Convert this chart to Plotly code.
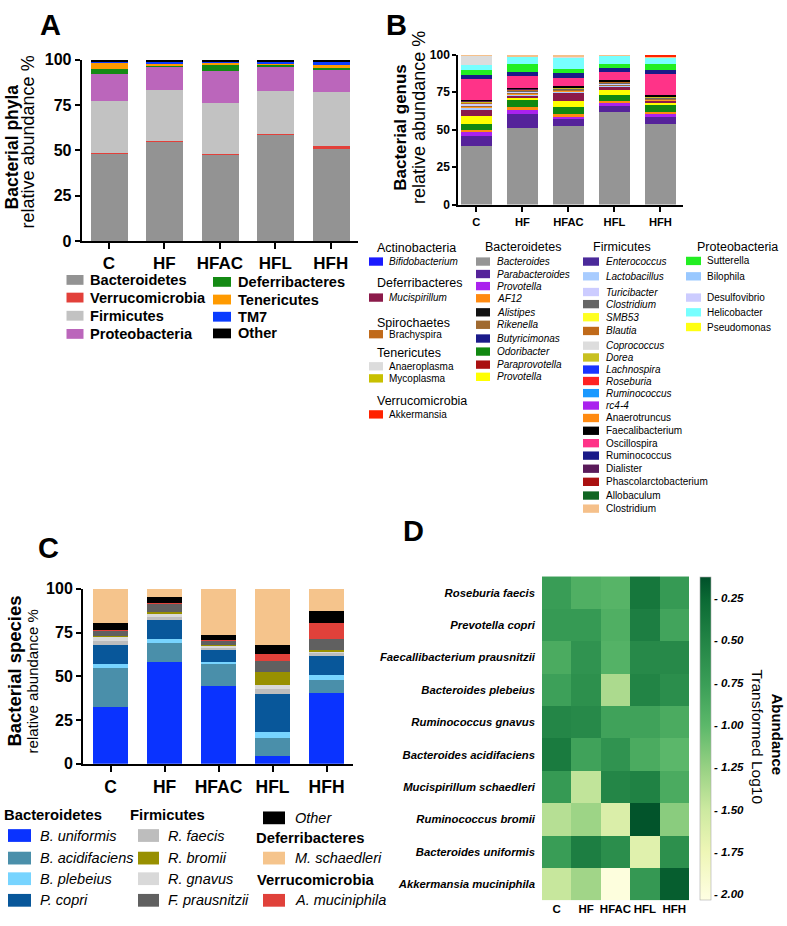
import plotly.graph_objects as go

W, H = 787, 926
FONT = "Liberation Sans, Arial, Helvetica, sans-serif"


def px(x):
    return x / W


def py(y):
    return 1 - y / H


groups = ["C", "HF", "HFAC", "HFL", "HFH"]

# ---------------- Panel A: bacterial phyla (% per group) ----------------
phyla = ["Bacteroidetes", "Verrucomicrobia", "Firmicutes", "Proteobacteria",
         "Deferribacteres", "Tenericutes", "TM7", "Other"]
phyla_colors = ["#939393", "#e2403a", "#c2c2c2", "#bb66bb",
                "#148a14", "#ff9a00", "#0a3cff", "#000000"]
a_bacteroidetes = [48.2, 55.1, 47.8, 59.1, 51.3]
a_verrucomicrobia = [0.3, 0.2, 0.1, 0.1, 1.1]
a_firmicutes = [28.8, 28.3, 28.1, 23.7, 29.8]
a_proteobacteria = [15.1, 12.8, 18.2, 13.5, 12.7]
a_deferribacteres = [2.5, 0.6, 2.9, 1.1, 1.1]
a_tenericutes = [3.6, 0.8, 1.4, 0.5, 1.1]
a_tm7 = [0.8, 1.2, 0.8, 0.9, 1.6]
a_other = [0.7, 1.0, 0.7, 1.1, 1.3]
phyla_values = [a_bacteroidetes, a_verrucomicrobia, a_firmicutes, a_proteobacteria,
                a_deferribacteres, a_tenericutes, a_tm7, a_other]

# ---------------- Panel B: bacterial genera (% per group, stacked bottom->top) ----------------
b_bacteroides = [39.5, 51.5, 52.6, 61.8, 53.7]
b_parabacteroides = [6.6, 9.2, 4.4, 4.4, 5.0]
b_provotella_v = [2.2, 2.8, 1.7, 1.7, 2.2]
b_af12 = [1.7, 1.8, 1.8, 1.5, 1.1]
b_odoribacter = [3.7, 4.8, 4.6, 4.0, 4.8]
b_provotella_y = [5.5, 1.7, 3.9, 3.2, 1.1]
b_mucispirillum = [4.3, 1.0, 6.1, 2.2, 1.5]
b_lactobacillus = [1.5, 0.8, 0.5, 0.6, 0.5]
b_anaerotruncus = [0.8, 0.7, 0.4, 0.5, 0.4]
b_rikenella = [0.8, 0.8, 0.8, 0.7, 0.5]
b_turicibacter = [0.7, 0.6, 0.4, 0.5, 0.4]
b_clostridium_g = [0.6, 0.5, 0.4, 0.5, 0.4]
b_blautia = [0.5, 0.5, 0.3, 0.4, 0.3]
b_dorea = [0.4, 0.4, 0.2, 0.3, 0.3]
b_dialister = [0.5, 0.4, 0.3, 0.2, 0.2]
b_faecalibacterium = [0.7, 0.7, 0.6, 0.6, 1.0]
b_oscillospira = [13.8, 7.6, 5.9, 5.5, 14.2]
b_ruminococcus_n = [2.6, 2.8, 3.1, 2.7, 2.1]
b_sutterella = [3.7, 5.4, 2.8, 2.4, 4.4]
b_helicobacter = [3.5, 4.9, 7.2, 5.9, 3.9]
b_anaeroplasma = [5.9, 0.3, 1.0, 0.0, 0.0]
b_clostridium_p = [0.5, 0.8, 1.0, 0.4, 1.2]
b_akkermansia = [0.0, 0.0, 0.0, 0.0, 0.8]

genus_stack_names = ["Bacteroides", "Parabacteroides", "Provotella", "AF12", "Odoribacter",
                     "Provotella", "Mucispirillum", "Lactobacillus", "Anaerotruncus", "Rikenella",
                     "Turicibacter", "Clostridium", "Blautia", "Dorea", "Dialister",
                     "Faecalibacterium", "Oscillospira", "Ruminococcus", "Sutterella",
                     "Helicobacter", "Anaeroplasma", "Clostridium", "Akkermansia"]
genus_stack_colors = ["#959595", "#55229a", "#aa22ee", "#ff8a11", "#118811",
                      "#ffff00", "#8b1a4a", "#a8ccff", "#ff9a22", "#a06a30",
                      "#ccccff", "#666666", "#c06a1a", "#c8c020", "#5a1a5a",
                      "#000000", "#ff3388", "#1a1a88", "#22ee22",
                      "#77ffff", "#dcdcdc", "#f5c08a", "#ff2200"]
genus_stack_values = [b_bacteroides, b_parabacteroides, b_provotella_v, b_af12, b_odoribacter,
                      b_provotella_y, b_mucispirillum, b_lactobacillus, b_anaerotruncus, b_rikenella,
                      b_turicibacter, b_clostridium_g, b_blautia, b_dorea, b_dialister,
                      b_faecalibacterium, b_oscillospira, b_ruminococcus_n, b_sutterella,
                      b_helicobacter, b_anaeroplasma, b_clostridium_p, b_akkermansia]

# Panel B legend content: (phylum header, [(genus, color, italic), ...])
legB_col1 = [("Actinobacteria", [("Bifidobacterium", "#1a1aff", True)]),
             ("Deferribacteres", [("Mucispirillum", "#8b1a4a", True)]),
             ("Spirochaetes", [("Brachyspira", "#c06a1a", False)]),
             ("Tenericutes", [("Anaeroplasma", "#dcdcdc", False), ("Mycoplasma", "#c8c000", False)]),
             ("Verrucomicrobia", [("Akkermansia", "#ff2200", False)])]
legB_col2 = [("Bacteroidetes", [("Bacteroides", "#959595", True), ("Parabacteroides", "#55229a", True),
                                ("Provotella", "#aa22ee", True), ("AF12", "#ff8a11", True),
                                ("Alistipes", "#111111", True), ("Rikenella", "#a06a30", True),
                                ("Butyricimonas", "#1a1a8a", True), ("Odoribacter", "#118811", True),
                                ("Paraprovotella", "#aa1111", True), ("Provotella", "#ffff00", True)])]
legB_col3 = [("Firmicutes", [("Enterococcus", "#4b2a9a", True), ("Lactobacillus", "#a8ccff", True),
                             ("Turicibacter", "#ccccff", True), ("Clostridium", "#666666", True),
                             ("SMB53", "#ffff22", True), ("Blautia", "#c06a1a", True),
                             ("Coprococcus", "#dddddd", True), ("Dorea", "#c8c020", True),
                             ("Lachnospira", "#1a33ff", True), ("Roseburia", "#ff2222", True),
                             ("Ruminococcus", "#1a99ff", True), ("rc4-4", "#aa22ee", True),
                             ("Anaerotruncus", "#ff8a11", False), ("Faecalibacterium", "#000000", False),
                             ("Oscillospira", "#ff3388", False), ("Ruminococcus", "#1a1a88", False),
                             ("Dialister", "#5a1a5a", False), ("Phascolarctobacterium", "#aa1111", False),
                             ("Allobaculum", "#116622", False), ("Clostridium", "#f5c08a", False)])]
legB_col4 = [("Proteobacteria", [("Sutterella", "#22ee22", False), ("Bilophila", "#99c8ff", False),
                                 ("Desulfovibrio", "#ccccff", False), ("Helicobacter", "#77ffff", False),
                                 ("Pseudomonas", "#ffff11", False)])]

# ---------------- Panel C: bacterial species (% per group, stacked bottom->top) ----------------
species_c = ["B. uniformis", "B. acidifaciens", "B. plebeius", "P. copri", "R. faecis",
             "R. gnavus", "R. bromii", "F. prausnitzii", "A. muciniphila", "Other", "M. schaedleri"]
species_c_colors = ["#0a33ff", "#4a8faa", "#77d4ff", "#08579a", "#bdbdbd",
                    "#d9d9d9", "#989000", "#606060", "#e0413a", "#000000", "#f5c48c"]
c_b_uniformis = [32.3, 58.3, 44.3, 4.7, 40.7]
c_b_acidifaciens = [22.8, 10.9, 13.3, 9.9, 7.5]
c_b_plebeius = [1.9, 2.4, 0.7, 3.5, 2.6]
c_p_copri = [10.9, 10.6, 6.7, 22.1, 10.9]
c_r_faecis = [2.5, 2.0, 1.4, 2.8, 1.5]
c_r_gnavus = [2.5, 1.8, 1.3, 1.9, 1.3]
c_r_bromii = [0.5, 0.7, 0.3, 7.8, 0.9]
c_f_prausnitzii = [2.8, 4.9, 2.7, 6.2, 6.0]
c_a_muciniphila = [0.6, 0.5, 0.2, 4.1, 9.3]
c_other = [3.6, 3.6, 2.6, 5.2, 6.6]
c_m_schaedleri = [19.6, 4.3, 26.5, 31.8, 12.7]
species_c_values = [c_b_uniformis, c_b_acidifaciens, c_b_plebeius, c_p_copri, c_r_faecis,
                    c_r_gnavus, c_r_bromii, c_f_prausnitzii, c_a_muciniphila, c_other, c_m_schaedleri]

# ---------------- Panel D: heatmap (log10 transformed abundance) ----------------
heat_species = ["Roseburia faecis", "Prevotella copri", "Faecallibacterium prausnitzii",
                "Bacteroides plebeius", "Ruminococcus gnavus", "Bacteroides acidifaciens",
                "Mucispirillum schaedleri", "Ruminococcus bromii", "Bacteroides uniformis",
                "Akkermansia muciniphila"]
h_roseburia_faecis = [-0.75, -0.92, -0.97, -0.38, -0.72]
h_prevotella_copri = [-0.72, -0.72, -0.92, -0.45, -0.82]
h_faecalibacterium = [-0.88, -0.65, -0.95, -0.55, -0.55]
h_bacteroides_plebeius = [-0.78, -0.62, -1.35, -0.50, -0.60]
h_ruminococcus_gnavus = [-0.52, -0.55, -0.80, -0.80, -0.88]
h_bacteroides_acidifaciens = [-0.42, -0.80, -0.65, -0.88, -1.00]
h_mucispirillum = [-0.72, -1.45, -0.52, -0.48, -0.88]
h_ruminococcus_bromii = [-1.40, -1.28, -1.60, -0.15, -1.20]
h_bacteroides_uniformis = [-0.75, -0.45, -0.60, -1.65, -0.62]
h_akkermansia = [-1.48, -1.30, -2.00, -0.70, -0.20]
heat_values = [h_roseburia_faecis, h_prevotella_copri, h_faecalibacterium, h_bacteroides_plebeius,
               h_ruminococcus_gnavus, h_bacteroides_acidifaciens, h_mucispirillum,
               h_ruminococcus_bromii, h_bacteroides_uniformis, h_akkermansia]
cbar_ticks = [-0.25, -0.5, -0.75, -1.0, -1.25, -1.5, -1.75, -2.0]
cbar_ticktext = ["- 0.25", "- 0.50", "- 0.75", "- 1.00", "- 1.25", "- 1.50", "- 1.75", "- 2.00"]

# ======================= build figure =======================
fig = go.Figure()

for name, color, vals in zip(phyla, phyla_colors, phyla_values):
    fig.add_trace(go.Bar(x=groups, y=vals, name=name, marker=dict(color=color, line=dict(width=0)),
                         width=0.67, xaxis="x", yaxis="y", showlegend=False))

for name, color, vals in zip(genus_stack_names, genus_stack_colors, genus_stack_values):
    fig.add_trace(go.Bar(x=groups, y=vals, name=name, marker=dict(color=color, line=dict(width=0)),
                         width=0.67, xaxis="x2", yaxis="y2", showlegend=False))

for name, color, vals in zip(species_c, species_c_colors, species_c_values):
    fig.add_trace(go.Bar(x=groups, y=vals, name=name, marker=dict(color=color, line=dict(width=0)),
                         width=0.66, xaxis="x3", yaxis="y3", showlegend=False))

colorscale = [[0.0, "#ffffe3"], [0.15, "#eef6b6"], [0.28, "#cce9a0"], [0.41, "#97d183"],
              [0.54, "#5cb86a"], [0.67, "#3a9e57"], [0.80, "#238546"], [0.93, "#0b6a34"],
              [1.0, "#00502a"]]
fig.add_trace(go.Heatmap(
    x=groups, y=heat_species, z=heat_values, zmin=-2.035, zmax=-0.13,
    colorscale=colorscale, xaxis="x4", yaxis="y4", showscale=True,
    colorbar=dict(x=px(700), xanchor="left", y=py(580), yanchor="top",
                  len=(909 - 580) / H, lenmode="fraction", thickness=11, thicknessmode="pixels",
                  xpad=0, ypad=0, outlinewidth=0.6, outlinecolor="#aaaaaa",
                  tickvals=cbar_ticks, ticktext=["<b><i>" + t + "</i></b>" for t in cbar_ticktext],
                  ticks="", tickfont=dict(size=11.5, family=FONT, color="black"))))


def bar_x(domain, rng, size, anchor, lw=2):
    return dict(domain=domain, range=rng, type="category", anchor=anchor, showline=True,
                linecolor="black", linewidth=lw, ticks="outside", ticklen=6, tickwidth=lw,
                tickcolor="black", tickfont=dict(size=size, family=FONT, color="black", weight="bold"),
                showgrid=False, zeroline=False, fixedrange=True)


def bar_y(domain, size, anchor, lw=2, ticklen=5):
    return dict(domain=domain, range=[0, 100], tickvals=[0, 25, 50, 75, 100], anchor=anchor,
                showline=True, linecolor="black", linewidth=lw, ticks="outside", ticklen=ticklen,
                tickwidth=lw, tickcolor="black",
                tickfont=dict(size=size, family=FONT, color="black", weight="bold"),
                showgrid=False, zeroline=False, fixedrange=True)


shapes = []
annotations = []


def swatch(x0, x1, yc, h, color):
    shapes.append(dict(type="rect", xref="paper", yref="paper", x0=px(x0), x1=px(x1),
                       y0=py(yc + h / 2), y1=py(yc - h / 2), fillcolor=color, line=dict(width=0),
                       layer="above"))


def text(x, y, s, size, bold=False, italic=False, xanchor="left", angle=0):
    if italic:
        s = "<i>" + s + "</i>"
    if bold:
        s = "<b>" + s + "</b>"
    annotations.append(dict(xref="paper", yref="paper", x=px(x), y=py(y), text=s, showarrow=False,
                            xanchor=xanchor, yanchor="middle", textangle=angle,
                            font=dict(size=size, family=FONT, color="black"), borderpad=0))


# panel letters
text(50, 17, "A", 29, bold=True, xanchor="center")
text(396, 17, "B", 29, bold=True, xanchor="center")
text(48, 550, "C", 29, bold=True, xanchor="center")
text(413, 533, "D", 29, bold=True, xanchor="center")

# axis titles
text(12, 142, "Bacterial phyla", 17.5, bold=True, xanchor="center", angle=-90)
text(28, 137, "relative abundance %", 18, xanchor="center", angle=-90)
text(401, 121, "Bacterial genus", 17, bold=True, xanchor="center", angle=-90)
text(419, 112, "relative abundance %", 18, xanchor="center", angle=-90)
text(15, 676, "Bacterial species", 18.5, bold=True, xanchor="center", angle=-90)
text(32, 686, "relative abundance %", 15, xanchor="center", angle=-90)
text(778, 740, "Abundance", 15, bold=True, xanchor="center", angle=90)
text(758, 742, "Transformed Log10", 15.5, xanchor="center", angle=90)

# Panel A legend
legA_rows = [277, 295, 313.5, 332]
legA_rows2 = [279, 297, 314.5, 331.5]
for i in range(4):
    swatch(66.5, 83.5, legA_rows[i], 10, phyla_colors[i])
    text(89, legA_rows[i], phyla[i], 14.6, bold=True)
    swatch(213, 231, legA_rows2[i], 10, phyla_colors[4 + i])
    text(237, legA_rows2[i], phyla[4 + i], 14.6, bold=True)

# Panel B legend
col1_y = [244, 258.3, 280, 295, 320.7, 332.3, 351.7, 365, 377.3, 400.7, 414]
col2_y = [243.3, 258.3, 271, 283.3, 295.7, 310, 322.7, 336.7, 350, 363.3, 375.7]
col3_y = [243.3] + [230 + v / 3 for v in [85, 130, 178, 215, 255, 297, 342, 378, 415, 450, 487, 525,
                                         563, 602, 640, 678, 718, 758, 800, 840]]
col4_y = [243.3] + [230 + v / 3 for v in [83, 130, 195, 240, 285]]
b_cols = [(legB_col1, col1_y, 369, 383, 388, 376),
          (legB_col2, col2_y, 476, 490, 496, 484),
          (legB_col3, col3_y, 583, 599, 605, 592),
          (legB_col4, col4_y, 686, 701, 706, 696)]
for content, ys, sx0, sx1, tx, hx in b_cols:
    k = 0
    for header, items in content:
        text(hx, ys[k], header, 12.5)
        k += 1
        for name, color, ital in items:
            swatch(sx0, sx1, ys[k], 8.5, color)
            text(tx, ys[k], name, 10, italic=ital)
            k += 1

# Panel C legend
text(3, 822, "Bacteroidetes", 14.8, bold=True)
text(129, 822, "Firmicutes", 14.8, bold=True)
text(255, 846, "Deferribacteres", 14.8, bold=True)
text(256, 888, "Verrucomicrobia", 14.8, bold=True)
c_rows = [843, 866, 887, 909]
c_leg_col1 = [0, 1, 2, 3]
c_leg_col2 = [4, 6, 5, 7]
for i, idx in enumerate(c_leg_col1):
    swatch(8, 31, c_rows[i], 13, species_c_colors[idx])
    text(39, c_rows[i], species_c[idx], 14.5, italic=True)
for i, idx in enumerate(c_leg_col2):
    swatch(138, 159, c_rows[i], 13, species_c_colors[idx])
    text(167, c_rows[i], species_c[idx], 14.5, italic=True)
for yv, idx in [(825, 9), (866, 10), (909, 8)]:
    swatch(263, 285, yv, 13, species_c_colors[idx])
    text(294, yv, species_c[idx], 14.5, italic=True)

fig.update_layout(
    width=W, height=H, margin=dict(l=0, r=0, t=0, b=0),
    paper_bgcolor="white", plot_bgcolor="white", barmode="stack", bargap=0,
    font=dict(family=FONT, color="black"),
    showlegend=False,
    xaxis=bar_x([px(81.7), px(358)], [-0.49, 4.49], 17, "y"),
    yaxis=bar_y([py(237.3), py(52.7)], 16, "x"),
    xaxis2=bar_x([px(458), px(683)], [-0.4, 4.49], 11.2, "y2", lw=1.5),
    yaxis2=bar_y([py(200.3), py(47.7)], 12, "x2", lw=1.5, ticklen=4),
    xaxis3=bar_x([px(83), px(353)], [-0.51, 4.49], 17.5, "y3"),
    yaxis3=bar_y([py(770), py(591.7)], 16, "x3"),
    xaxis4=dict(domain=[px(542), px(689)], anchor="y4", showline=False, ticks="", showgrid=False,
                zeroline=False, tickfont=dict(size=11.5, family=FONT, color="black", weight="bold"),
                fixedrange=True),
    yaxis4=dict(domain=[py(909), py(579)], anchor="x4", autorange="reversed", showline=False,
                ticks="", showgrid=False, zeroline=False, ticklabelstandoff=6,
                tickvals=heat_species, ticktext=["<b><i>" + s + "</i></b>" for s in heat_species],
                tickfont=dict(size=11.3, family=FONT, color="black"), fixedrange=True),
    shapes=shapes, annotations=annotations,
)

pin_page = ("document.documentElement.style.margin='0';document.documentElement.style.overflow='hidden';"
            "document.body.style.margin='0';document.body.style.padding='0';"
            "document.body.style.overflow='hidden';"
            "var gd=document.getElementsByClassName('plotly-graph-div')[0];"
            "gd.style.position='fixed';gd.style.left='0px';gd.style.top='0px';")

fig.write_html("out.html", config={"displayModeBar": False}, post_script=pin_page)
